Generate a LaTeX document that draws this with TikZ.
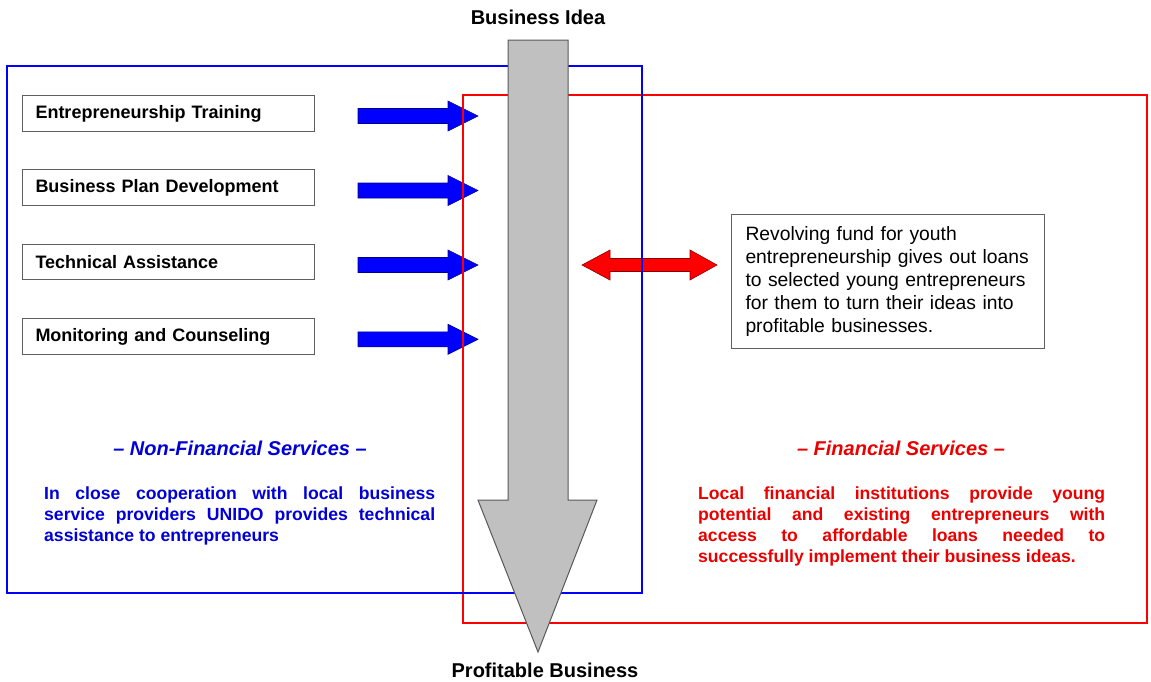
\documentclass[tikz,border=0pt]{standalone}
\usepackage{fontspec}
\setmainfont{Liberation Sans}
\definecolor{myblue}{RGB}{0,0,255}
\definecolor{myred}{RGB}{255,0,0}
\definecolor{txtblue}{RGB}{0,0,215}
\definecolor{txtred}{RGB}{235,0,0}
\definecolor{boxline}{RGB}{95,95,95}
\definecolor{shaftgray}{RGB}{192,192,192}
\begin{document}
\begin{tikzpicture}[x=1pt,y=-1pt,
  leftbox/.style={draw=boxline, line width=1pt, fill=white, minimum height=35.5pt,
    inner xsep=13pt, inner ysep=0pt, text width=266pt, align=left,
    font=\bfseries\fontsize{18}{21}\selectfont, anchor=west},
  infobox/.style={draw=boxline, line width=1pt, fill=white, minimum height=134pt,
    inner xsep=14pt, text width=285pt, align=left,
    font=\fontsize{19.3}{23}\selectfont, anchor=north west},
  bluearrow/.style={draw=blue!55!black, fill=myblue, line width=0.6pt},
  redarrow/.style={draw=red!55!black, fill=myred, line width=0.6pt},
  grayarrow/.style={draw=black!65, fill=shaftgray, line width=1pt},
  framebox/.style={line width=2.6pt},
  titletext/.style={font=\bfseries\fontsize{20}{24}\selectfont},
  headtext/.style={font=\bfseries\itshape\fontsize{20}{24}\selectfont},
  paratext/.style={font=\bfseries\fontsize{17.6}{21}\selectfont, align=justify,
    inner sep=0pt, anchor=north west}
]
\useasboundingbox (0,0) rectangle (1151,681);
\fill[white] (0,0) rectangle (1151,681);

% blue block arrows
\foreach \y in {116,190.5,265,339.3} {
  \draw[bluearrow] (358,\y-7.5) -- (448,\y-7.5) -- (448,\y-15) -- (478,\y)
    -- (448,\y+15) -- (448,\y+7.5) -- (358,\y+7.5) -- cycle;
}
% red double arrow
\draw[redarrow] (582,265) -- (610,250) -- (610,258.5) -- (690,258.5) -- (690,250)
  -- (717,265) -- (690,280) -- (690,271.5) -- (610,271.5) -- (610,280) -- cycle;

% frames
\draw[framebox, draw=myred] (463,95) rectangle (1147,623);
\draw[framebox, draw=myblue] (7,66) rectangle (642,593);

% central gray arrow
\draw[grayarrow] (508,40) -- (568,40) -- (568,500) -- (597,500) -- (538,652)
  -- (478,500) -- (508,500) -- cycle;

\node[titletext] (idea) at (538,17) {Business Idea};
\node[titletext] (profit) at (545,670) {Profitable Business};

% left boxes
\node[leftbox] (et) at (22,113.5) {Entrepreneurship Training};
\node[leftbox] (bp) at (22,187.5) {Business Plan Development};
\node[leftbox] (ta) at (22,262) {Technical Assistance};
\node[leftbox] (mc) at (22,336.5) {Monitoring and Counseling};

% info box
\node[infobox] (fund) at (731,214) {\mbox{Revolving fund for youth}\\
\mbox{entrepreneurship gives out loans}\\
\mbox{to selected young entrepreneurs}\\
\mbox{for them to turn their ideas into}\\
\mbox{profitable businesses.}};

% headings
\node[headtext, text=txtblue] (nfs) at (240,448) {\textendash\ Non-Financial Services \textendash};
\node[headtext, text=txtred] (fs) at (901,448) {\textendash\ Financial Services \textendash};

% paragraphs
\node[paratext, text=txtblue, text width=391pt] (nfp) at (44,487)
  {In close cooperation with local business\linebreak
   service providers UNIDO provides technical\linebreak
   assistance to entrepreneurs};
\node[paratext, text=txtred, text width=407pt] (fp) at (698,487)
  {Local financial institutions provide young\linebreak
   potential and existing entrepreneurs with\linebreak
   access to affordable loans needed to\linebreak
   successfully implement their business ideas.\par};
\end{tikzpicture}
\end{document}
